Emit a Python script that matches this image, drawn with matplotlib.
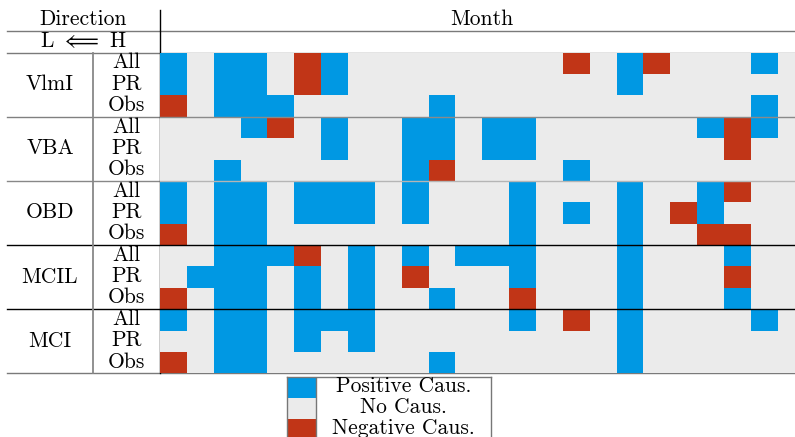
import numpy as np
import matplotlib.pyplot as plt
from matplotlib.colors import ListedColormap

plt.rcParams['font.family'] = ['cmr10', 'DejaVu Serif']
plt.rcParams['mathtext.fontset'] = 'cm'
plt.rcParams['axes.formatter.use_mathtext'] = True

# Causality per month: '+' positive, '0' none, '-' negative
groups = ['VlmI', 'VBA', 'OBD', 'MCIL', 'MCI']
sub_labels = ['All', 'PR', 'Obs']
vlmi = ["+0++0-+00000000-0+-000+0",
        "+0++0-+0000000000+000000",
        "-0+++00000+00000000000+0"]
vba = ["000+-0+00++0++000000+-+0",
       "000000+00++0++0000000-00",
       "00+000000+-0000+00000000"]
obd = ["+0++0+++0+000+000+00+-00",
       "+0++0+++0+000+0+0+0-+000",
       "-0++000000000+000+00--00"]
mcil = ["00+++-0+0+0+++000+000+00",
        "0+++0+0+0-000+000+000-00",
        "-0++0+0+00+00-000+000+00"]
mci = ["+0++0+++00000+0-0+0000+0",
       "00++0+0+000000000+000000",
       "-0++000000+000000+000000"]
legend_labels = ['Positive Caus.', 'No Caus.', 'Negative Caus.']

blue, grey, red = '#0098e3', '#ebebeb', '#c13517'
sym = {'+': 1, '0': 0, '-': -1}
rows = vlmi + vba + obd + mcil + mci
values = np.array([[sym[c] for c in r] for r in rows])
n_rows, n_cols = values.shape

W, H = 795, 437
fig = plt.figure(figsize=(W / 100, H / 100), dpi=100)

# background axes in pixel units for the table frame and labels
bg = fig.add_axes([0, 0, 1, 1])
bg.set_xlim(0, W)
bg.set_ylim(H, 0)
bg.axis('off')

top, bottom = 52.7, 373.3
row_h = (bottom - top) / n_rows
grid_left, grid_right = 160, 804.5

ax = fig.add_axes([grid_left / W, (H - bottom) / H,
                   (grid_right - grid_left) / W, (bottom - top) / H])
ax.pcolormesh(values, cmap=ListedColormap([red, grey, blue]), vmin=-1, vmax=1)
ax.set_xlim(0, n_cols)
ax.set_ylim(n_rows, 0)
ax.axis('off')

sep_colors = ['#8a8a8a', '#b5b5b5', 'black', 'black']
for i, c in enumerate(sep_colors):
    ax.axhline(3 * (i + 1), color=c, lw=1.0, clip_on=False)

# frame lines
fs = 15.5
line_grey = '#7a7a7a'
bg.plot([7, W], [31, 31], color=line_grey, lw=1.0)
bg.plot([7, W], [top, top], color=line_grey, lw=1.0)
bg.plot([7, W], [bottom, bottom], color=line_grey, lw=1.0)
left_sep = ['#808080', '#888888', 'black', 'black']
for i, c in enumerate(left_sep):
    y = top + 3 * (i + 1) * row_h
    bg.plot([7, grid_left], [y, y], color=c, lw=1.0)
bg.plot([grid_left, grid_left], [10, bottom], color='black', lw=1.0)
bg.plot([93, 93], [top, bottom], color='#888888', lw=1.3)

bg.text(83, 25, 'Direction', ha='center', va='baseline', fontsize=fs)
bg.text(83, 47, r'L $\Longleftarrow$ H', ha='center', va='baseline', fontsize=fs)
bg.text(482, 25, 'Month', ha='center', va='baseline', fontsize=fs)

for g, name in enumerate(groups):
    yc = top + (3 * g + 1.5) * row_h
    bg.text(50, yc + 5.5, name, ha='center', va='baseline', fontsize=fs)
    for s, lab in enumerate(sub_labels):
        ys = top + (3 * g + s + 0.5) * row_h
        bg.text(126.5, ys + 5, lab, ha='center', va='baseline', fontsize=fs)

# legend drawn as a small table
leg_top, leg_bot = 376.5, 440
leg_w = 491 - 287
sw = 28.7
leg = fig.add_axes([287 / W, (H - leg_bot) / H, leg_w / W, (leg_bot - leg_top) / H])
leg.set_xlim(0, leg_w)
leg.set_ylim(3, 0)
leg.barh(np.arange(3) + 0.5, sw, height=1, left=0, color=[blue, grey, red])
leg.axvline(sw, color='#777777', lw=1.0)
for i, lab in enumerate(legend_labels):
    leg.text((sw + leg_w) / 2, i + 0.5 + 5 / 21, lab, ha='center', va='baseline',
             fontsize=fs)
leg.set_xticks([])
leg.set_yticks([])
for sp in leg.spines.values():
    sp.set_color('#777777')
    sp.set_linewidth(1.0)

fig.savefig('out.png', dpi=100)
